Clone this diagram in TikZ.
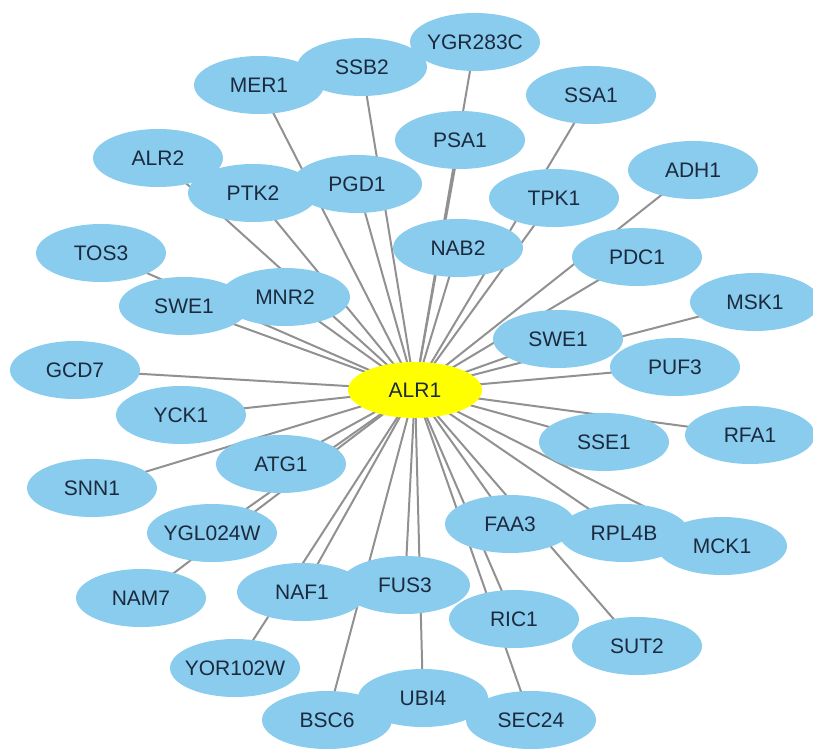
\documentclass[tikz,border=0pt]{standalone}
\usepackage{fontspec}
\setmainfont{Liberation Sans}
\usetikzlibrary{shapes.geometric}
\pgfdeclarelayer{edgelayer}
\pgfsetlayers{edgelayer,main}
\definecolor{leafblue}{RGB}{137,204,238}
\definecolor{hubyellow}{RGB}{255,255,0}
\definecolor{labelink}{RGB}{28,42,62}
\definecolor{edgegray}{RGB}{145,145,145}
\newcommand{\lbl}[1]{\makebox[0pt]{#1}}
\tikzset{
  leaf/.style={ellipse, fill=leafblue, draw=none, inner sep=0pt,
    minimum width=130pt, minimum height=58pt, text=labelink,
    font=\fontsize{21}{21}\selectfont},
  hub/.style={leaf, fill=hubyellow, minimum width=134pt, minimum height=56pt},
  link/.style={draw=edgegray, line width=2pt}
}
\begin{document}
\begin{tikzpicture}[x=1pt,y=-1pt]
\useasboundingbox (0,0) rectangle (813,751);
% nodes
\node[hub]  (alr1)    at (415,390) {\lbl{ALR1}};
\node[leaf] (ygr283c) at (475,42)  {\lbl{YGR283C}};
\node[leaf] (ssb2)    at (362,67)  {\lbl{SSB2}};
\node[leaf] (mer1)    at (259,85)  {\lbl{MER1}};
\node[leaf] (ssa1)    at (591,95)  {\lbl{SSA1}};
\node[leaf] (psa1)    at (460,140) {\lbl{PSA1}};
\node[leaf] (adh1)    at (693,170) {\lbl{ADH1}};
\node[leaf] (alr2)    at (158,158) {\lbl{ALR2}};
\node[leaf] (pgd1)    at (357,184) {\lbl{PGD1}};
\node[leaf] (ptk2)    at (253,193) {\lbl{PTK2}};
\node[leaf] (tpk1)    at (554,198) {\lbl{TPK1}};
\node[leaf] (nab2)    at (458,248) {\lbl{NAB2}};
\node[leaf] (pdc1)    at (637,257) {\lbl{PDC1}};
\node[leaf] (tos3)    at (101,253) {\lbl{TOS3}};
\node[leaf] (swea)    at (184,306) {\lbl{SWE1}};
\node[leaf] (mnr2)    at (285,297) {\lbl{MNR2}};
\node[leaf] (msk1)    at (755,302) {\lbl{MSK1}};
\node[leaf] (sweb)    at (558,339) {\lbl{SWE1}};
\node[leaf] (puf3)    at (675,367) {\lbl{PUF3}};
\node[leaf] (gcd7)    at (75,370)  {\lbl{GCD7}};
\node[leaf] (yck1)    at (181,415) {\lbl{YCK1}};
\node[leaf] (rfa1)    at (750,435) {\lbl{RFA1}};
\node[leaf] (sse1)    at (604,442) {\lbl{SSE1}};
\node[leaf] (atg1)    at (281,464) {\lbl{ATG1}};
\node[leaf] (snn1)    at (92,488)  {\lbl{SNN1}};
\node[leaf] (ygl024w) at (212,533) {\lbl{YGL024W}};
\node[leaf] (faa3)    at (510,524) {\lbl{FAA3}};
\node[leaf] (rpl4b)   at (624,533) {\lbl{RPL4B}};
\node[leaf] (mck1)    at (722,546) {\lbl{MCK1}};
\node[leaf] (nam7)    at (141,598) {\lbl{NAM7}};
\node[leaf] (naf1)    at (302,592) {\lbl{NAF1}};
\node[leaf] (fus3)    at (405,585) {\lbl{FUS3}};
\node[leaf] (ric1)    at (514,619) {\lbl{RIC1}};
\node[leaf] (sut2)    at (637,646) {\lbl{SUT2}};
\node[leaf] (yor102w) at (235,668) {\lbl{YOR102W}};
\node[leaf] (ubi4)    at (423,698) {\lbl{UBI4}};
\node[leaf] (bsc6)    at (327,720) {\lbl{BSC6}};
\node[leaf] (sec24)   at (531,720) {\lbl{SEC24}};
% edges behind nodes
\begin{pgfonlayer}{edgelayer}
\foreach \n in {ygr283c,ssb2,mer1,ssa1,psa1,adh1,alr2,pgd1,ptk2,tpk1,nab2,pdc1,tos3,swea,mnr2,msk1,sweb,puf3,gcd7,yck1,rfa1,sse1,atg1,snn1,ygl024w,faa3,rpl4b,mck1,nam7,naf1,fus3,ric1,sut2,yor102w,ubi4,bsc6,sec24}
  \draw[link] (alr1.center) -- (\n.center);
\end{pgfonlayer}
\end{tikzpicture}
\end{document}
